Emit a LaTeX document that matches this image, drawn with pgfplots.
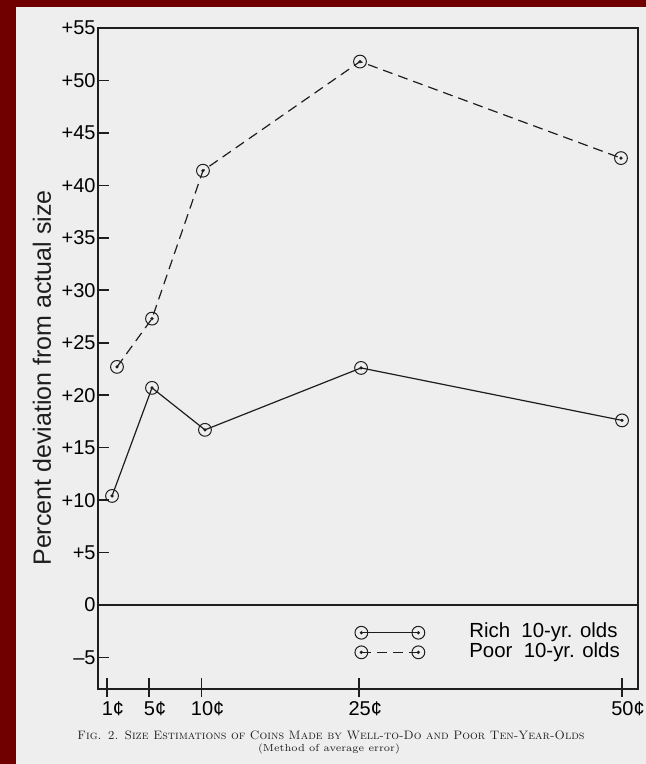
\documentclass[border=0pt]{standalone}
\usepackage{fontspec}
\usepackage{graphicx}
\usepackage{pgfplots}
\pgfplotsset{compat=1.18}
\newfontfamily\lettering{Liberation Sans}
\definecolor{bgred}{RGB}{112,0,0}
\definecolor{paper}{RGB}{238,238,238}
\definecolor{ink}{RGB}{30,30,30}
\pgfdeclareplotmark{circdot}{%
  \pgfpathcircle{\pgfpointorigin}{3.2pt}\pgfusepathqstroke
  \pgfpathcircle{\pgfpointorigin}{0.9pt}\pgfusepathqfill}
\begin{document}
\begin{tikzpicture}[x=1pt,y=1pt]
\useasboundingbox (0,0) rectangle (323,382);
\fill[bgred] (0,0) rectangle (323,382);
\fill[paper] (8,0) rectangle (323,378.5);
\begin{axis}[
  at={(49pt,37.5pt)}, anchor=south west,
  scale only axis, width=270pt, height=330.5pt,
  xmin=0.144, xmax=51.52, ymin=-8, ymax=55,
  axis line style={ink, line width=1.1pt},
  tick pos=left,
  xtick={1,5,10,25,50},
  xticklabels={1¢,5¢,10¢,25¢,50¢},
  ytick={-5,0,5,10,15,20,25,30,35,40,45,50,55},
  yticklabels={\textendash5,0,+5,+10,+15,+20,+25,+30,+35,+40,+45,+50,+55},
  major tick length=5.5pt,
  ytick align=inside,
  xtick align=center,
  x tick style={ink, line width=0.8pt, /pgfplots/major tick length=9.5pt, yshift=0.75pt},
  y tick style={ink, line width=0.8pt},
  yticklabel style={font=\lettering\fontsize{10}{12}\selectfont, inner sep=1pt},
  xticklabel style={font=\lettering\fontsize{10}{12}\selectfont, xshift=3pt},
  legend style={draw=none, fill=none, at={(rel axis cs:0.474,0.0703)}, anchor=west,
    inner sep=0pt, row sep=0pt, font=\lettering\fontsize{10.2}{12}\selectfont,
    nodes={text height=7.4pt, text depth=2.4pt, inner sep=0pt}},
  legend cell align=left,
  legend image code/.code={%
    \draw[#1] plot coordinates {(0pt,0pt) (28.5pt,0pt)};
    \path[draw=none, fill=none] (-3.5pt,0pt) -- (54pt,0pt);},
]
\draw[ink, line width=1.1pt] (axis cs:0.144,0) -- (axis cs:51.52,0);
\addplot[ink, line width=0.6pt, mark=circdot, mark options={solid, line width=0.5pt}]
  coordinates {(1.48,10.4) (5.28,20.7) (10.32,16.7) (25.17,22.6) (50.0,17.6)};
\addlegendentry{Rich\ \ 10-yr. olds}
\addplot[ink, line width=0.6pt, dash pattern=on 5pt off 3pt, mark=circdot, mark options={solid, line width=0.5pt}]
  coordinates {(1.95,22.7) (5.28,27.3) (10.13,41.4) (25.07,51.8) (49.9,42.6)};
\addlegendentry{Poor\ \ 10-yr. olds}
\end{axis}
\node[rotate=90, font=\lettering\fontsize{12.5}{14}\selectfont, text=ink] at (21,193) {Percent\ deviation\ from\ actual\ size};
\node[text=ink, inner sep=0pt] at (165.5,14.5) {\resizebox{253.5pt}{!}{\fontsize{7}{8}\selectfont\textsc{Fig. 2.\enspace Size Estimations of Coins Made by Well-to-Do and Poor Ten-Year-Olds}}};
\node[text=ink, inner sep=0pt] at (164.5,7.3) {\resizebox{71pt}{!}{\fontsize{6}{7}\selectfont (Method of average error)}};
\end{tikzpicture}
\end{document}
